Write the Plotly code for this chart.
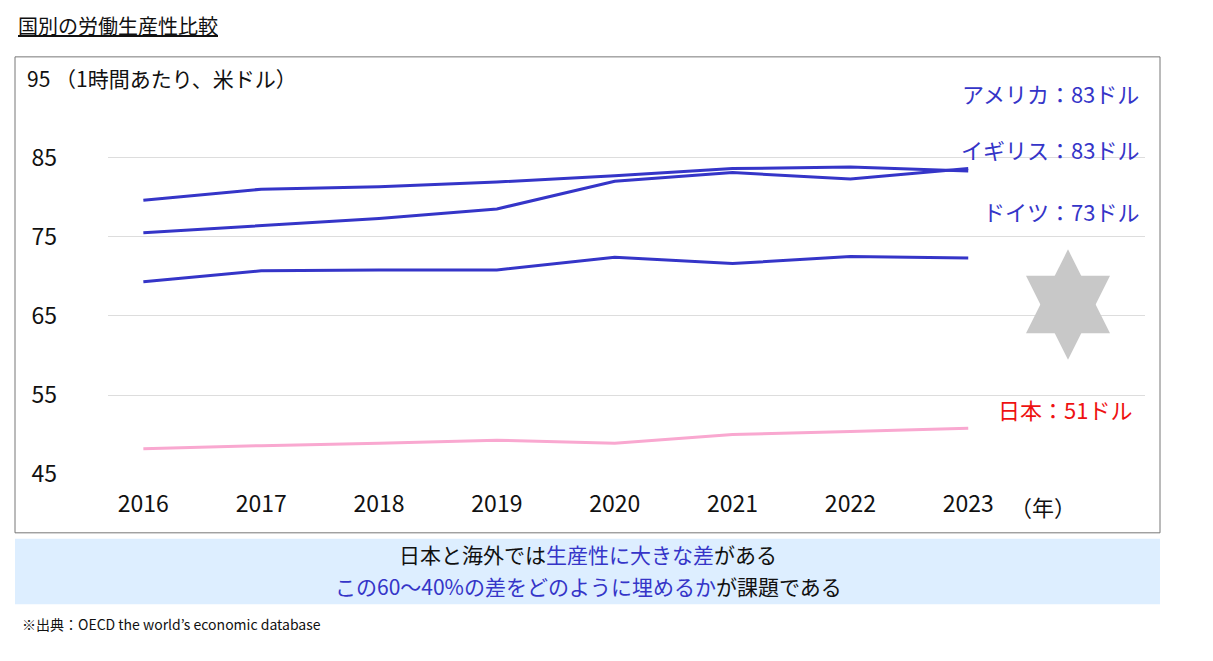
import plotly.graph_objects as go

years = [2016, 2017, 2018, 2019, 2020, 2021, 2022, 2023]
usa = [79.6, 81.0, 81.3, 81.9, 82.7, 83.6, 83.8, 83.3]
uk = [75.5, 76.4, 77.3, 78.5, 82.0, 83.1, 82.3, 83.6]
germany = [69.3, 70.7, 70.8, 70.8, 72.4, 71.6, 72.5, 72.3]
japan = [48.2, 48.6, 48.9, 49.3, 48.9, 50.0, 50.4, 50.8]
y_ticks = [45, 55, 65, 75, 85]

W, H = 1213, 661
FONT = "Noto Sans CJK JP"
BLUE = "#3535c8"


def px(x):
    return x / W


def py(y):
    return 1 - y / H


fig = go.Figure()
for vals in [usa, uk, germany]:
    fig.add_trace(go.Scatter(x=years, y=vals, mode="lines",
                             line=dict(color=BLUE, width=3), showlegend=False))
fig.add_trace(go.Scatter(x=years, y=japan, mode="lines",
                         line=dict(color="#f9a8d0", width=3), showlegend=False))

fig.update_layout(
    width=W, height=H, margin=dict(l=0, r=0, t=0, b=0),
    plot_bgcolor="white", paper_bgcolor="white",
    font=dict(family=FONT, color="#111"),
    xaxis=dict(domain=[px(100), px(1137)], range=[2015.70, 2024.50],
               tickvals=years, showgrid=False, zeroline=False,
               tickfont=dict(size=23), ticks="", ticklabelstandoff=14),
    yaxis=dict(domain=[py(477), py(72)], range=[45, 95], tickvals=y_ticks,
               showgrid=True, gridcolor="#dddddd", gridwidth=1, zeroline=False,
               tickfont=dict(size=23), ticks="", ticklabelstandoff=50),
)

# frame around chart
fig.add_shape(type="rect", xref="paper", yref="paper",
              x0=px(7), x1=px(1152), y0=py(537), y1=py(50),
              line=dict(color="#777", width=1))
# bottom message box
fig.add_shape(type="rect", xref="paper", yref="paper",
              x0=px(7), x1=px(1152), y0=py(610), y1=py(543),
              fillcolor="#ddeeff", line=dict(width=0))

ann = [
    dict(x=px(8), y=py(18), text="<u>国別の労働生産性比較</u>", size=20, color="#111", xanchor="left"),
    dict(x=px(17), y=py(72), text="95 （1時間あたり、米ドル）", size=21, color="#111", xanchor="left"),
    dict(x=px(1000), y=py(510), text="（年）", size=22, color="#111", xanchor="left"),
    dict(x=px(1133), y=py(87), text="アメリカ：83ドル", size=22, color=BLUE, xanchor="right"),
    dict(x=px(1133), y=py(144), text="イギリス：83ドル", size=22, color=BLUE, xanchor="right"),
    dict(x=px(1133), y=py(208), text="ドイツ：73ドル", size=22, color=BLUE, xanchor="right"),
    dict(x=px(1126), y=py(410), text="日本：51ドル", size=22, color="#ee1111", xanchor="right"),
    dict(x=px(580), y=py(559), text="日本と海外では<span style='color:#3535c8'>生産性に大きな差</span>がある",
         size=21, color="#111", xanchor="center"),
    dict(x=px(580), y=py(591), text="<span style='color:#3535c8'>この60～40%の差をどのように埋めるか</span>が課題である",
         size=21, color="#111", xanchor="center"),
    dict(x=px(12), y=py(630), text="※出典：OECD the world’s economic database", size=14, color="#111", xanchor="left"),
]
for a in ann:
    fig.add_annotation(x=a["x"], y=a["y"], xref="paper", yref="paper", text=a["text"],
                       showarrow=False, xanchor=a["xanchor"], yanchor="middle",
                       font=dict(size=a["size"], color=a["color"], family=FONT))

# grey double arrow between Germany and Japan
fig.add_annotation(x=px(1060), y=py(360), ax=0, ay=-112,
                   xref="paper", yref="paper", axref="pixel", ayref="pixel",
                   text="", showarrow=True, arrowside="end+start", arrowhead=2,
                   arrowsize=1.2, arrowwidth=14, arrowcolor="#c8c8c8")

fig.write_html("out.html")
